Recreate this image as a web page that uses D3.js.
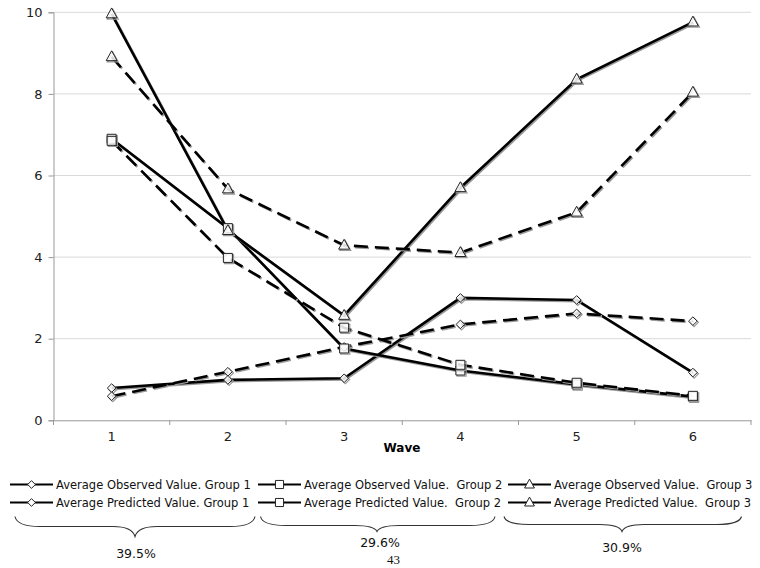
<!DOCTYPE html>
<html><head><meta charset="utf-8">
<script src="https://cdn.jsdelivr.net/npm/d3@7"></script>
<style>body{margin:0;background:#fff}svg{display:block}</style>
</head><body><svg id="c" width="760" height="568"></svg>
<script>
const waves = [1,2,3,4,5,6];
const obsG1 = [0.79,0.99,1.03,3.0,2.95,1.17];
const predG1 = [0.59,1.19,1.80,2.35,2.62,2.43];
const obsG2 = [6.90,4.71,1.76,1.22,0.88,0.58];
const predG2 = [6.85,3.98,2.27,1.36,0.92,0.60];
const obsG3 = [9.96,4.65,2.57,5.70,8.36,9.76];
const predG3 = [8.91,5.67,4.29,4.11,5.10,8.04];
const yTicks = [0,2,4,6,8,10];
const legendLabels = ["Average Observed Value. Group 1","Average Predicted Value. Group 1",
  "Average Observed Value.  Group 2","Average Predicted Value.  Group 2",
  "Average Observed Value.  Group 3","Average Predicted Value.  Group 3"];
const shares = ["39.5%","29.6%","30.9%"];
const pageNumber = "43";

const series = [
  {v:obsG1, shape:"diamond", dash:null},
  {v:predG1, shape:"diamond", dash:"14,7"},
  {v:obsG2, shape:"square", dash:null},
  {v:predG2, shape:"square", dash:"14,7"},
  {v:obsG3, shape:"triangle", dash:null},
  {v:predG3, shape:"triangle", dash:"14,7"}
];

const svg = d3.select("#c");
const font = "DejaVu Sans, Verdana, sans-serif";
const x = d3.scaleBand().domain(waves).range([53.5,751]);
const y = d3.scaleLinear().domain([0,10]).range([420.3,12.3]);
const cx = d => x(d) + x.bandwidth()/2;

// gridlines
svg.append("g").selectAll("line").data(yTicks.filter(t=>t>0)).join("line")
  .attr("x1",53.5).attr("x2",751).attr("y1",d=>y(d)).attr("y2",d=>y(d))
  .attr("stroke","#d9d9d9").attr("stroke-width",1);

// y axis
const ya = svg.append("g").attr("transform","translate(53.5,0)")
  .call(d3.axisLeft(y).tickValues(yTicks).tickSize(5).tickPadding(6));
ya.select(".domain").attr("stroke","#999");
ya.selectAll(".tick line").attr("stroke","#999");
ya.selectAll("text").attr("font-family",font).attr("font-size",13).attr("fill","#222");

// x axis
const xa = svg.append("g").attr("transform","translate(0,420.3)")
  .call(d3.axisBottom(x).tickSize(0).tickPadding(11));
xa.select(".domain").attr("stroke","#999");
xa.selectAll("text").attr("font-family",font).attr("font-size",13).attr("fill","#222");
svg.append("g").selectAll("line").data(d3.range(waves.length+1)).join("line")
  .attr("x1",i=>53.5+i*x.bandwidth()).attr("x2",i=>53.5+i*x.bandwidth())
  .attr("y1",420.3).attr("y2",425).attr("stroke","#999");

svg.append("text").attr("x",402).attr("y",452).attr("text-anchor","middle")
  .attr("font-family",font).attr("font-size",12).attr("font-weight","bold").text("Wave");

function markerPath(shape, s){
  if(shape==="diamond") return `M0,${-s}L${s},0L0,${s}L${-s},0Z`;
  if(shape==="square") return `M${-s},${-s}H${s}V${s}H${-s}Z`;
  return `M0,${-s*1.15}L${s*1.05},${s*0.75}L${-s*1.05},${s*0.75}Z`;
}
const msize = {diamond:4.3, square:4.5, triangle:5.2};

const line = d3.line().x((d,i)=>cx(waves[i])).y(d=>y(d));
const plot = svg.append("g");
series.forEach(s=>{
  plot.append("path").attr("d",line(s.v)).attr("fill","none").attr("stroke","#9a9a9a")
    .attr("stroke-width",2.6).attr("stroke-dasharray",s.dash).attr("transform","translate(1.2,1.2)");
  plot.append("path").attr("d",line(s.v)).attr("fill","none").attr("stroke","#000")
    .attr("stroke-width",2.6).attr("stroke-dasharray",s.dash);
});
series.forEach(s=>{
  const g = plot.append("g");
  g.selectAll("path.sh").data(s.v).join("path").attr("class","sh")
    .attr("d",markerPath(s.shape,msize[s.shape]))
    .attr("transform",(d,i)=>`translate(${cx(waves[i])+1.2},${y(d)+1.2})`)
    .attr("fill","none").attr("stroke","#999").attr("stroke-width",1.2);
  g.selectAll("path.mk").data(s.v).join("path").attr("class","mk")
    .attr("d",markerPath(s.shape,msize[s.shape]))
    .attr("transform",(d,i)=>`translate(${cx(waves[i])},${y(d)})`)
    .attr("fill","#fff").attr("fill-opacity",0.85).attr("stroke","#222").attr("stroke-width",1);
});

// legend
const cols = [10, 258, 508];
const rows = [484.5, 502.5];
series.forEach((s,i)=>{
  const c = Math.floor(i/2), r = i%2;
  const x0 = cols[c], yy = rows[r];
  const g = svg.append("g");
  g.append("line").attr("x1",x0).attr("x2",x0+43).attr("y1",yy).attr("y2",yy)
    .attr("stroke","#000").attr("stroke-width",2.2);
  g.append("path").attr("d",markerPath(s.shape,msize[s.shape]*0.9))
    .attr("transform",`translate(${x0+21.5},${yy})`)
    .attr("fill","#fff").attr("stroke","#222").attr("stroke-width",1);
  g.append("text").attr("x",x0+46).attr("y",yy+4.3).attr("font-family",font)
    .attr("font-size",11.5).attr("fill","#111").style("white-space","pre").text(legendLabels[i]);
});

// braces
const braces = [
  {x1:15, x2:255, tip:135, yEnd:516.5, yFlat:526.5, yTip:536.5, lx:136, ly:558},
  {x1:260.5, x2:495, tip:377, yEnd:516.5, yFlat:525.5, yTip:531.5, lx:380, ly:547},
  {x1:504, x2:741.5, tip:622, yEnd:516.5, yFlat:524.5, yTip:531.5, lx:622, ly:551.5}
];
braces.forEach((b,i)=>{
  const d = `M${b.x1},${b.yEnd} Q${b.x1+2},${b.yFlat} ${b.x1+25},${b.yFlat} L${b.tip-22},${b.yFlat} Q${b.tip-3},${b.yFlat} ${b.tip},${b.yTip} Q${b.tip+3},${b.yFlat} ${b.tip+22},${b.yFlat} L${b.x2-25},${b.yFlat} Q${b.x2-2},${b.yFlat} ${b.x2},${b.yEnd}`;
  svg.append("path").attr("d",d).attr("fill","none").attr("stroke","#333").attr("stroke-width",1.1);
  svg.append("text").attr("x",b.lx).attr("y",b.ly).attr("text-anchor","middle")
    .attr("font-family",font).attr("font-size",12.5).attr("fill","#111").text(shares[i]);
});
svg.append("text").attr("x",393.5).attr("y",564).attr("text-anchor","middle")
  .attr("font-family","Liberation Serif, Times New Roman, serif").attr("font-size",13).attr("fill","#111").text(pageNumber);
</script></body></html>
